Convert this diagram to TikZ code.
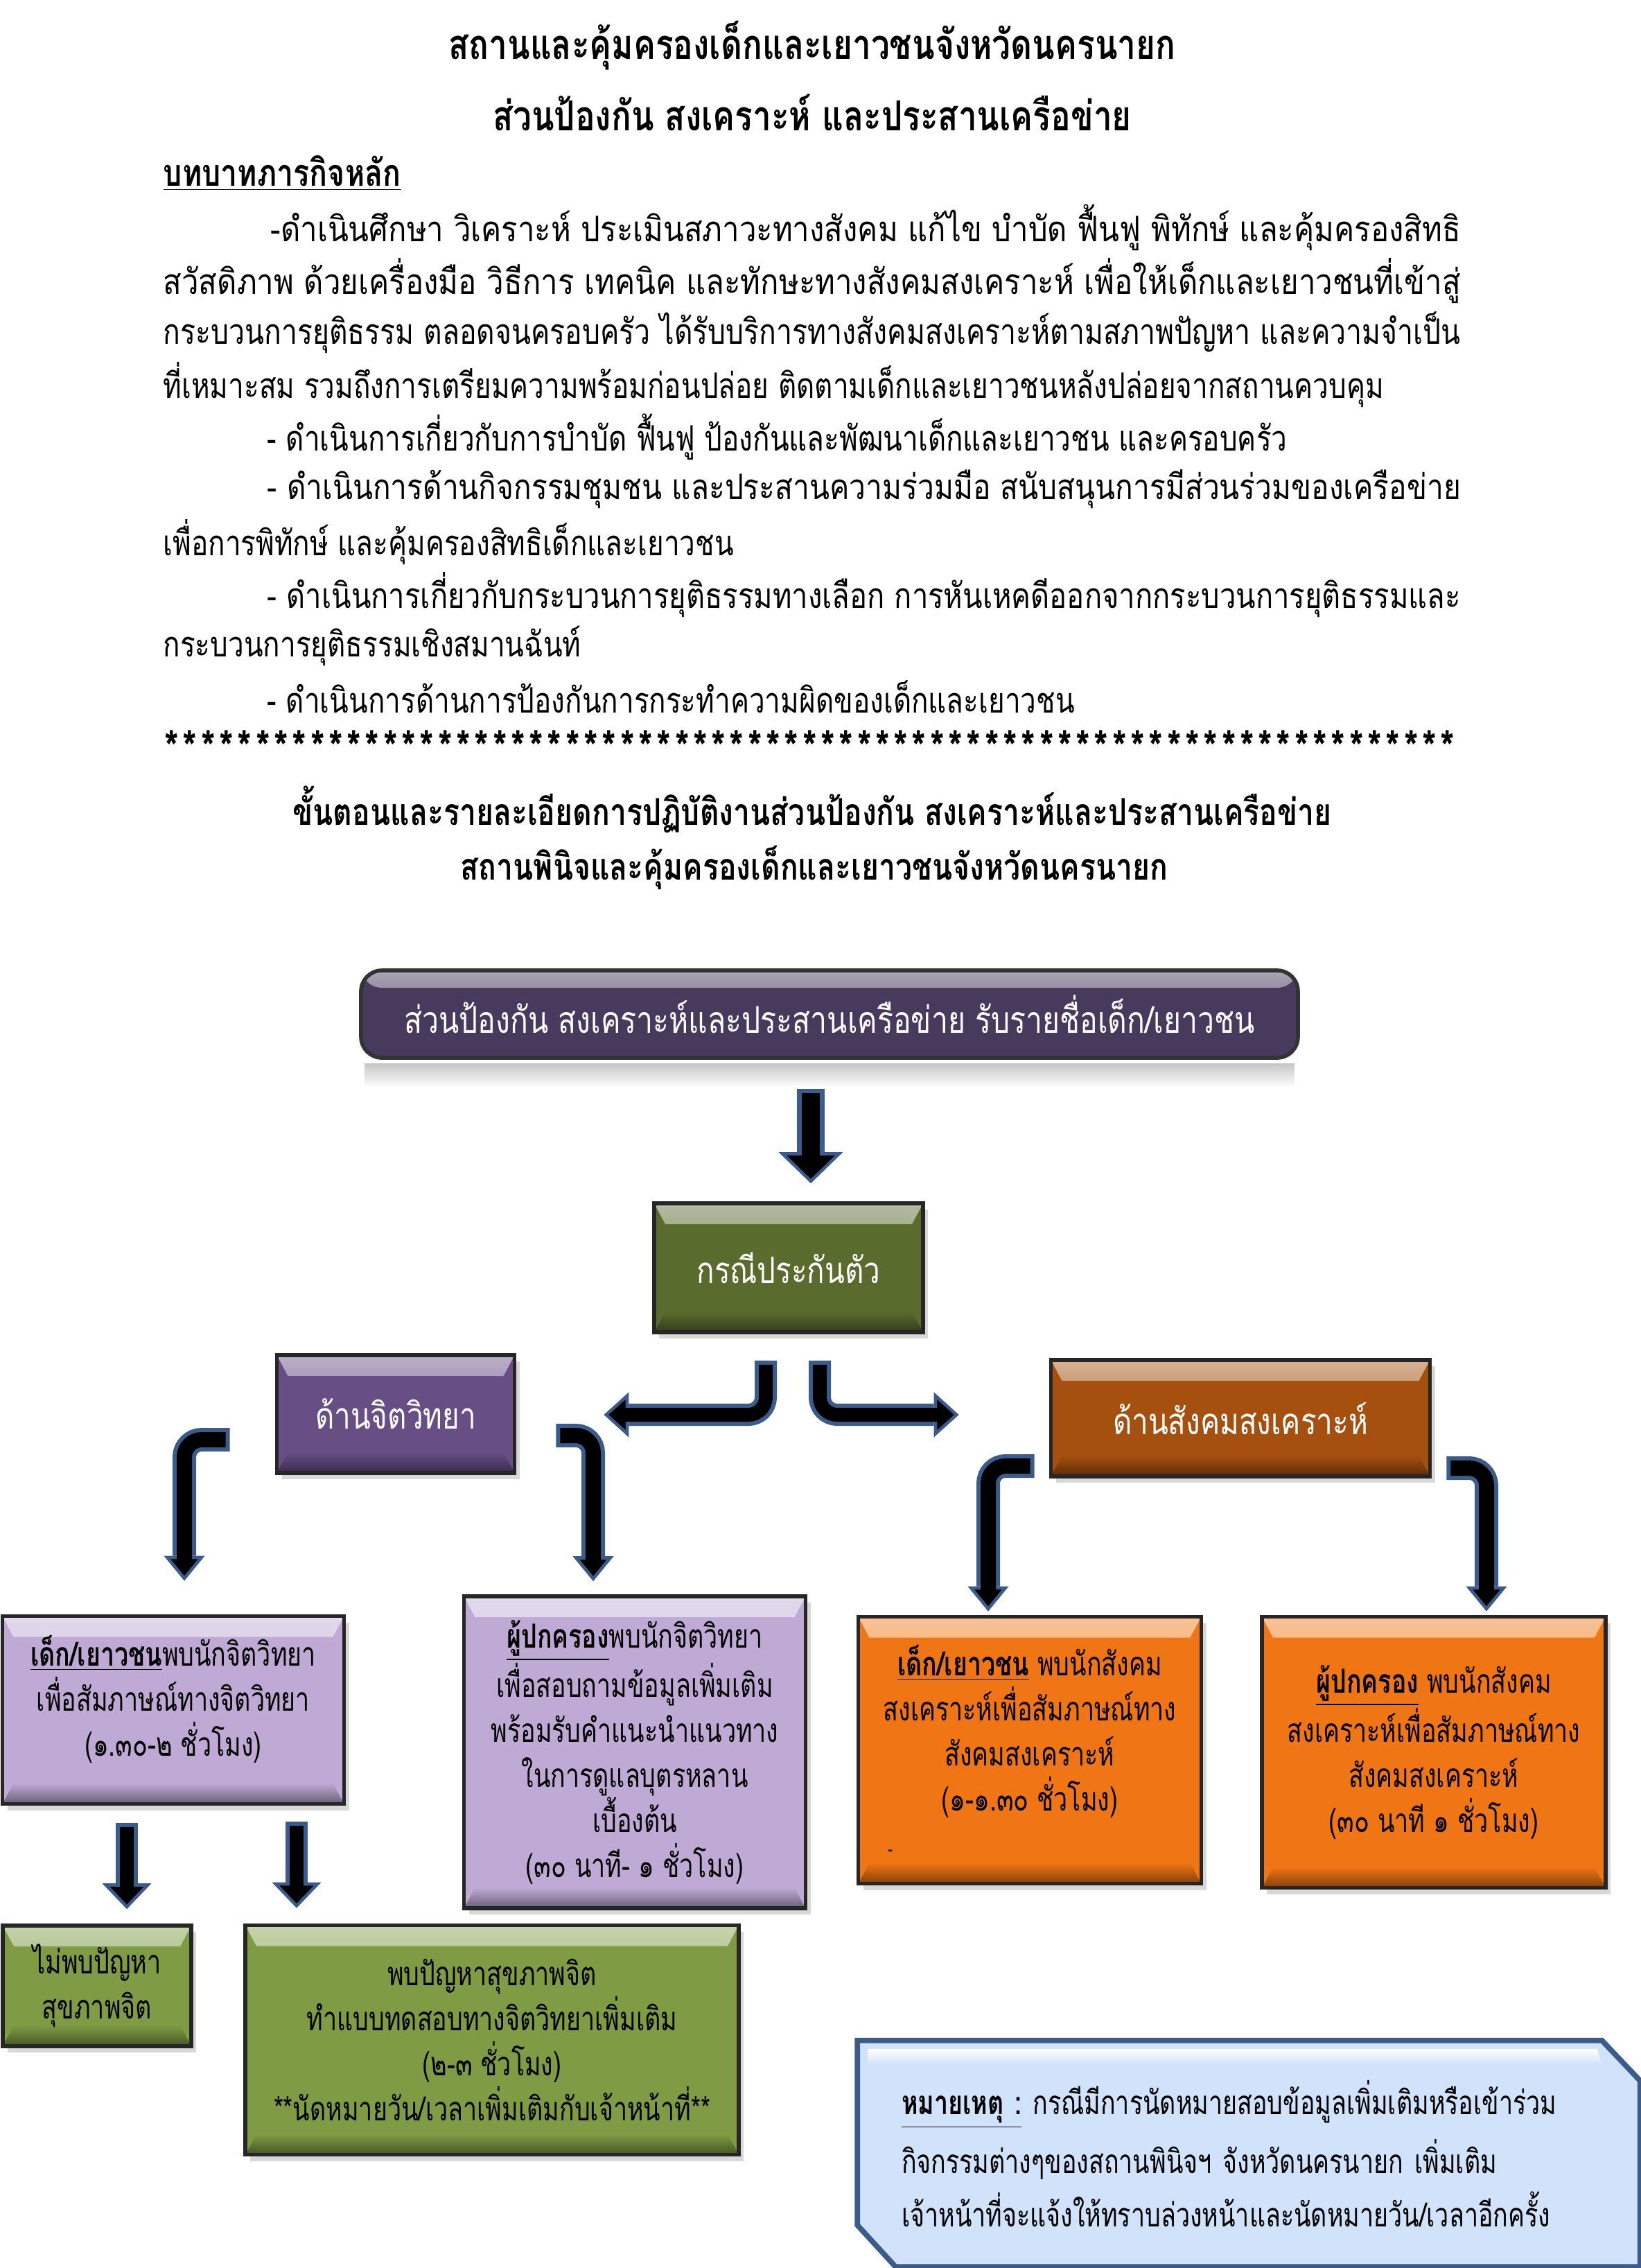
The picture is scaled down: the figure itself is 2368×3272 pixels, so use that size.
\documentclass[tikz,border=0pt]{standalone}
\usepackage{fontspec}
\setmainfont[Script=Thai,FakeStretch=0.80]{Loma}
\newfontfamily\boxfont[Script=Thai,FakeStretch=0.75]{Loma}
\usetikzlibrary{calc,shadows,arrows.meta}

\definecolor{colhead}{HTML}{483A5C}
\definecolor{colcase}{HTML}{5A6B2E}
\definecolor{colpsy}{HTML}{674F86}
\definecolor{colsoc}{HTML}{A5500F}
\definecolor{collav}{HTML}{BFAAD5}
\definecolor{colorg}{HTML}{F07514}
\definecolor{colgrn}{HTML}{7F9B44}
\definecolor{colnote}{HTML}{D0E3FA}
\definecolor{arrowblue}{HTML}{3B5B8A}

\tikzset{
  titleline/.style={inner sep=0pt, font=\bfseries\fontsize{17}{20}\selectfont},
  subline/.style={inner sep=0pt, font=\bfseries\fontsize{15.2}{18}\selectfont},
  bodyline/.style={anchor=west, inner sep=0pt, font=\fontsize{14.4}{18}\selectfont},
  starmark/.style={inner sep=0pt, font=\bfseries\fontsize{19}{20}\selectfont},
  boxtext/.style={font=\boxfont\fontsize{13.6}{18.5}\selectfont},
  darktext/.style={text=white, font=\fontsize{15}{18}\selectfont},
  bevelbox/.style={draw=black!85, line width=1.6pt, fill=#1, inner sep=0pt, align=center, boxtext,
    drop shadow={opacity=0.3, shadow xshift=0.7mm, shadow yshift=-0.9mm},
    path picture={
      \shade[top color=#1!45!white, bottom color=#1]
        (path picture bounding box.north west) -- (path picture bounding box.north east)
        -- ([xshift=-1.6mm,yshift=-3mm]path picture bounding box.north east)
        -- ([xshift=1.6mm,yshift=-3mm]path picture bounding box.north west) -- cycle;
      \shade[top color=#1, bottom color=#1!55!black]
        ([xshift=1.6mm,yshift=3mm]path picture bounding box.south west)
        -- ([xshift=-1.6mm,yshift=3mm]path picture bounding box.south east)
        -- (path picture bounding box.south east) -- (path picture bounding box.south west) -- cycle;
    }},
  headbox/.style={draw=black!80, line width=1.6pt, fill=colhead, rounded corners=3mm, text=white,
    inner sep=0pt, font=\fontsize{15.2}{18}\selectfont, minimum width=135.2mm, minimum height=12.6mm,
    path picture={
      \shade[top color=colhead!45!white, bottom color=colhead]
        (path picture bounding box.north west) rectangle ([yshift=-2.5mm]path picture bounding box.north east);
    }},
  noteframe/.style={draw=arrowblue, line width=2.2pt, fill=colnote,
    drop shadow={opacity=0.3, shadow xshift=0.7mm, shadow yshift=-0.9mm}},
  notetext/.style={inner sep=0pt, align=left, boxtext},
  arrout/.style={draw=arrowblue, line width=#1},
  arrin/.style={draw=black, line width=#1},
  arrhead/.style 2 args={draw=arrowblue, line width=1.3pt, -{Triangle[width=#1,length=#2,fill=black]}}
}

\begin{document}
\begin{tikzpicture}[x=0.1mm, y=-0.1mm]
  \fill[white] (0,0) rectangle (2368,3272);
  \useasboundingbox (0,0) rectangle (2368,3272);

  % หัวเรื่อง
  \node[titleline] (t1) at (1172,66) {สถานและคุ้มครองเด็กและเยาวชนจังหวัดนครนายก};
  \node[titleline] (t2) at (1172,162) {ส่วนป้องกัน สงเคราะห์ และประสานเครือข่าย};
  \node[bodyline, font=\bfseries\fontsize{15.3}{18}\selectfont] (h1) at (235,250) {\underline{บทบาทภารกิจหลัก}};

  % บทบาท
  \node[bodyline] (l1) at (390,328) {\resizebox{171.7mm}{\height}{-ดำเนินศึกษา วิเคราะห์ ประเมินสภาวะทางสังคม แก้ไข บำบัด ฟื้นฟู พิทักษ์ และคุ้มครองสิทธิ}};
  \node[bodyline] (l2) at (235,405) {\resizebox{187.2mm}{\height}{สวัสดิภาพ ด้วยเครื่องมือ วิธีการ เทคนิค และทักษะทางสังคมสงเคราะห์ เพื่อให้เด็กและเยาวชนที่เข้าสู่}};
  \node[bodyline] (l3) at (235,480) {\resizebox{187.2mm}{\height}{กระบวนการยุติธรรม ตลอดจนครอบครัว ได้รับบริการทางสังคมสงเคราะห์ตามสภาพปัญหา และความจำเป็น}};
  \node[bodyline] (l4) at (235,555) {ที่เหมาะสม รวมถึงการเตรียมความพร้อมก่อนปล่อย ติดตามเด็กและเยาวชนหลังปล่อยจากสถานควบคุม};
  \node[bodyline] (l5) at (385,630) {- ดำเนินการเกี่ยวกับการบำบัด ฟื้นฟู ป้องกันและพัฒนาเด็กและเยาวชน และครอบครัว};
  \node[bodyline] (l6) at (385,706) {\resizebox{172.2mm}{\height}{- ดำเนินการด้านกิจกรรมชุมชน และประสานความร่วมมือ สนับสนุนการมีส่วนร่วมของเครือข่าย}};
  \node[bodyline] (l7) at (235,782) {เพื่อการพิทักษ์ และคุ้มครองสิทธิเด็กและเยาวชน};
  \node[bodyline] (l8) at (385,858) {\resizebox{172.2mm}{\height}{- ดำเนินการเกี่ยวกับกระบวนการยุติธรรมทางเลือก การหันเหคดีออกจากกระบวนการยุติธรรมและ}};
  \node[bodyline] (l9) at (235,932) {กระบวนการยุติธรรมเชิงสมานฉันท์};
  \node[bodyline] (l10) at (385,1005) {- ดำเนินการด้านการป้องกันการกระทำความผิดของเด็กและเยาวชน};

  % เส้นดอกจัน
  \foreach \i in {0,...,70}
    \node[starmark] (s\i) at (248+\i*26.3,1078) {*};

  \node[subline] (t3) at (1172,1168) {ขั้นตอนและรายละเอียดการปฏิบัติงานส่วนป้องกัน สงเคราะห์และประสานเครือข่าย};
  \node[subline] (t4) at (1175,1252) {สถานพินิจและคุ้มครองเด็กและเยาวชนจังหวัดนครนายก};

  % กล่องขั้นตอน
  \node[headbox] (top) at (1197,1463) {ส่วนป้องกัน สงเคราะห์และประสานเครือข่าย รับรายชื่อเด็ก/เยาวชน};
  \shade[top color=black!22, bottom color=white] ($(top.south west)+(8,6)$) rectangle ($(top.south east)+(-8,40)$);

  \node[bevelbox=colcase, darktext, minimum width=38.8mm, minimum height=18.6mm] (case) at (1138,1829) {กรณีประกันตัว};
  \node[bevelbox=colpsy, darktext, minimum width=34.3mm, minimum height=17mm] (psy) at (571,2040) {ด้านจิตวิทยา};
  \node[bevelbox=colsoc, darktext, minimum width=54.7mm, minimum height=16.8mm] (soc) at (1790,2046) {ด้านสังคมสงเคราะห์};

  \node[bevelbox=collav, minimum width=49.3mm, minimum height=27.1mm] (kid1) at (250,2467) {};
  \node[boxtext, align=center, inner sep=0pt] (kid1txt) at ($(kid1.center)+(0,-16)$)
    {\underline{\textbf{เด็ก/เยาวชน}}พบนักจิตวิทยา\\ เพื่อสัมภาษณ์ทางจิตวิทยา\\ (๑.๓๐-๒ ชั่วโมง)};
  \node[bevelbox=collav, minimum width=49.3mm, minimum height=45mm] (par1) at (916,2528)
    {\underline{\textbf{ผู้ปกครอง}}พบนักจิตวิทยา\\ เพื่อสอบถามข้อมูลเพิ่มเติม\\ พร้อมรับคำแนะนำแนวทาง\\ ในการดูแลบุตรหลาน\\ เบื้องต้น\\ (๓๐ นาที- ๑ ชั่วโมง)};
  \node[bevelbox=colorg, minimum width=49.5mm, minimum height=38.5mm] (kid2) at (1486,2525)
    {\underline{\textbf{เด็ก/เยาวชน}} พบนักสังคม\\ สงเคราะห์เพื่อสัมภาษณ์ทาง\\ สังคมสงเคราะห์\\ (๑-๑.๓๐ ชั่วโมง)\\ \makebox[41mm][l]{\fontsize{8}{8}\selectfont -}};
  \node[bevelbox=colorg, minimum width=49.6mm, minimum height=39.1mm] (par2) at (2069,2528)
    {\underline{\textbf{ผู้ปกครอง}} พบนักสังคม\\ สงเคราะห์เพื่อสัมภาษณ์ทาง\\ สังคมสงเคราะห์\\ (๓๐ นาที ๑ ชั่วโมง)};
  \node[bevelbox=colgrn, minimum width=27.2mm, minimum height=17.4mm] (nofind) at (140,2865)
    {ไม่พบปัญหา\\ สุขภาพจิต};
  \node[bevelbox=colgrn, minimum width=71.2mm, minimum height=33.1mm] (find) at (710,2943)
    {พบปัญหาสุขภาพจิต\\ ทำแบบทดสอบทางจิตวิทยาเพิ่มเติม\\ (๒-๓ ชั่วโมง)\\ **นัดหมายวัน/เวลาเพิ่มเติมกับเจ้าหน้าที่**};

  % หมายเหตุ
  \node[minimum width=112.8mm, minimum height=32.5mm, inner sep=0pt] (note) at (1802,3107) {};
  \path[noteframe] (note.north west) -- ([xshift=-5.5mm]note.north east) -- ([yshift=-5.8mm]note.north east)
    -- (note.south east) -- ([xshift=5.5mm]note.south west) -- ([yshift=6mm]note.south west) -- cycle;
  \shade[top color=white, bottom color=colnote] ([xshift=1.5mm,yshift=-1.2mm]note.north west)
    -- ([xshift=-6.2mm,yshift=-1.2mm]note.north east) -- ([xshift=-5.5mm,yshift=-3.5mm]note.north east)
    -- ([xshift=1.5mm,yshift=-3.5mm]note.north west) -- cycle;
  \node[notetext, text width=100.2mm] (notetxt) at (note.center)
    {\underline{\textbf{หมายเหตุ :}} กรณีมีการนัดหมายสอบข้อมูลเพิ่มเติมหรือเข้าร่วม\\[1.2mm] กิจกรรมต่างๆของสถานพินิจฯ จังหวัดนครนายก เพิ่มเติม\\[1.2mm] เจ้าหน้าที่จะแจ้งให้ทราบล่วงหน้าและนัดหมายวัน/เวลาอีกครั้ง};

  % ลูกศรลง
  \coordinate (a0) at ($(top.south)+(-27,42)$);
  \coordinate (a2) at ($(case.north)+(32,-26)$);
  \draw[arrout=4mm] (a0) -- ($(a2)+(0,-45)$);
  \draw[arrhead={9.2mm}{4.5mm}] ($(a2)+(0,-45)$) -- (a2);
  \draw[arrin=2.6mm] ($(a0)+(0,6)$) -- ($(a2)+(0,-35)$);

  % ลูกศรแยกซ้าย-ขวา
  \coordinate (bl0) at ($(case.south)+(-33,38)$);
  \coordinate (bl2) at ($(psy.east)+(126,1)$);
  \draw[arrout=3.2mm, rounded corners=2.5mm] (bl0) |- ($(bl2)+(36,0)$);
  \draw[arrhead={6.4mm}{3.6mm}] ($(bl2)+(36,0)$) -- (bl2);
  \draw[arrin=2mm, rounded corners=2.5mm] ($(bl0)+(0,6)$) |- ($(bl2)+(26,0)$);

  \coordinate (br0) at ($(case.south)+(45,38)$);
  \coordinate (br2) at ($(soc.west)+(-130,-5)$);
  \draw[arrout=3.2mm, rounded corners=2.5mm] (br0) |- ($(br2)+(-36,0)$);
  \draw[arrhead={6.4mm}{3.6mm}] ($(br2)+(-36,0)$) -- (br2);
  \draw[arrin=2mm, rounded corners=2.5mm] ($(br0)+(0,6)$) |- ($(br2)+(-26,0)$);

  % ลูกศรจากด้านจิตวิทยา
  \coordinate (pl0) at ($(psy.west)+(-65,37)$);
  \coordinate (pl2) at ($(kid1.north)+(16,-48)$);
  \draw[arrout=3.4mm, rounded corners=2.5mm] (pl0) -| ($(pl2)+(0,-36)$);
  \draw[arrhead={5.8mm}{3.6mm}] ($(pl2)+(0,-36)$) -- (pl2);
  \draw[arrin=2.2mm, rounded corners=2.5mm] ($(pl0)+(-6,0)$) -| ($(pl2)+(0,-26)$);

  \coordinate (pr0) at ($(psy.east)+(57,31)$);
  \coordinate (pr2) at ($(par1.north)+(-60,-19)$);
  \draw[arrout=3.4mm, rounded corners=2.5mm] (pr0) -| ($(pr2)+(0,-36)$);
  \draw[arrhead={5.8mm}{3.6mm}] ($(pr2)+(0,-36)$) -- (pr2);
  \draw[arrin=2.2mm, rounded corners=2.5mm] ($(pr0)+(6,0)$) -| ($(pr2)+(0,-26)$);

  % ลูกศรจากด้านสังคมสงเคราะห์
  \coordinate (sl0) at ($(soc.west)+(-21,69)$);
  \coordinate (sl2) at ($(kid2.north)+(-60,-5)$);
  \draw[arrout=3.4mm, rounded corners=2.5mm] (sl0) -| ($(sl2)+(0,-36)$);
  \draw[arrhead={5.8mm}{3.6mm}] ($(sl2)+(0,-36)$) -- (sl2);
  \draw[arrin=2.2mm, rounded corners=2.5mm] ($(sl0)+(-6,0)$) -| ($(sl2)+(0,-26)$);

  \coordinate (sr0) at ($(soc.east)+(21,72)$);
  \coordinate (sr2) at ($(par2.north)+(76,-5)$);
  \draw[arrout=3.4mm, rounded corners=2.5mm] (sr0) -| ($(sr2)+(0,-36)$);
  \draw[arrhead={5.8mm}{3.6mm}] ($(sr2)+(0,-36)$) -- (sr2);
  \draw[arrin=2.2mm, rounded corners=2.5mm] ($(sr0)+(6,0)$) -| ($(sr2)+(0,-26)$);

  % ลูกศรผลการประเมิน
  \coordinate (d10) at ($(kid1.south)+(-67,25)$);
  \coordinate (d12) at ($(nofind.north)+(43,-21)$);
  \draw[arrout=3.2mm] (d10) -- ($(d12)+(0,-37)$);
  \draw[arrhead={7mm}{3.7mm}] ($(d12)+(0,-37)$) -- (d12);
  \draw[arrin=2mm] ($(d10)+(0,6)$) -- ($(d12)+(0,-27)$);

  \coordinate (d20) at ($(kid1.south)+(178,23)$);
  \coordinate (d22) at ($(find.north)+(-282,-22)$);
  \draw[arrout=3.2mm] (d20) -- ($(d22)+(0,-37)$);
  \draw[arrhead={7mm}{3.7mm}] ($(d22)+(0,-37)$) -- (d22);
  \draw[arrin=2mm] ($(d20)+(0,6)$) -- ($(d22)+(0,-27)$);
\end{tikzpicture}
\end{document}
